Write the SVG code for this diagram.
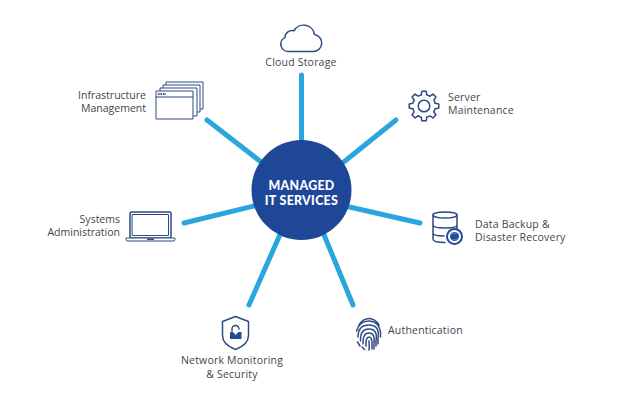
<svg xmlns="http://www.w3.org/2000/svg" width="622" height="401" viewBox="0 0 622 401">
<style>
.label{font-family:"Open Sans","Noto Sans",sans-serif;font-size:10.5px;letter-spacing:.2px;fill:#42454c}
.end{text-anchor:end;letter-spacing:0}
.mid{text-anchor:middle}
.hub{font-family:Lato,"Open Sans",sans-serif;font-size:12.400px;font-weight:900;letter-spacing:.3px;fill:#fff;text-anchor:middle}
.spoke{stroke:#2aa6df;stroke-width:5;stroke-linecap:round;fill:none}
.ico{fill:none;stroke:#2f4a83;stroke-width:1.500;stroke-linejoin:round;stroke-linecap:round}
.thin{stroke-width:1}
.icof{fill:#fff;stroke:#2f4a83;stroke-width:1;stroke-linejoin:round}
.solid{fill:#234a94}
</style>
<defs>
<!-- one gear tooth with the run of root up to the next tooth -->
<path id="tooth" class="ico" d="M-2.800-11.200L-2.100-14.800H2.100L2.800-11.200L5.900-9.900"/>
</defs>
<rect width="622" height="401" fill="#fff"/>
<g id="connectors">
<line class="spoke" x1="301.500" y1="75" x2="301.500" y2="145"/>
<line class="spoke" x1="396" y1="120" x2="340" y2="165"/>
<line class="spoke" x1="420" y1="223" x2="345" y2="206"/>
<line class="spoke" x1="353" y1="305" x2="322" y2="230"/>
<line class="spoke" x1="249" y1="305" x2="282" y2="230"/>
<line class="spoke" x1="184" y1="223" x2="258" y2="205"/>
<line class="spoke" x1="207" y1="120" x2="265" y2="165"/>
</g>
<g id="hub">
<circle cx="301.500" cy="190" r="50" fill="#1f4798"/>
<text class="hub" x="301.500" y="189.500">MANAGED</text>
<text class="hub" x="301.500" y="204.500">IT SERVICES</text>
</g>
<g id="cloud-storage">
<path class="ico" d="M289 51.500h24a8.500 8.500 0 0 0 1.500-16.900a11 11 0 0 0-20.500-3.800a7 7 0 0 0-9 6.500a7.500 7.500 0 0 0 4 14.200z"/>
<text class="label mid" x="301" y="66">Cloud Storage</text>
</g>
<g id="infrastructure-management">
<rect class="icof" x="166" y="82" width="37" height="27"/>
<rect class="icof" x="163" y="85" width="37" height="27"/>
<rect class="icof" x="160" y="88" width="37" height="28"/>
<rect class="icof" x="156" y="91" width="37" height="28"/>
<path class="ico thin" d="M156 97h37"/>
<path d="M158 94h8" stroke="#2f4a83" stroke-width="2" stroke-dasharray="1.500 1"/>
<text class="label end" x="146" y="99">Infrastructure</text>
<text class="label end" x="146" y="112">Management</text>
</g>
<g id="server-maintenance">
<use href="#tooth" transform="translate(424 106)"/>
<use href="#tooth" transform="translate(424 106) rotate(45)"/>
<use href="#tooth" transform="translate(424 106) rotate(90)"/>
<use href="#tooth" transform="translate(424 106) rotate(135)"/>
<use href="#tooth" transform="translate(424 106) rotate(180)"/>
<use href="#tooth" transform="translate(424 106) rotate(225)"/>
<use href="#tooth" transform="translate(424 106) rotate(270)"/>
<use href="#tooth" transform="translate(424 106) rotate(315)"/>
<circle class="ico" cx="424" cy="106" r="5.800"/>
<text class="label" x="448" y="101">Server</text>
<text class="label" x="448" y="114">Maintenance</text>
</g>
<g id="data-backup">
<ellipse class="ico" cx="445" cy="215" rx="12" ry="3"/>
<path class="ico" d="M433 215v24q0 3.500 12 3.500M457 215v14M433 225q0 3 12 3t12-3M433 233q0 3 11 3"/>
<circle cx="454.500" cy="236.500" r="7.500" fill="#fff" stroke="#234a94" stroke-width="2"/>
<circle class="solid" cx="454.500" cy="236.500" r="4.500"/>
<path d="M451.500 235a3 3 0 0 1 5-1M457.500 238a3 3 0 0 1-5 1" fill="none" stroke="#8ea3cc" stroke-width=".8"/>
<text class="label" x="475" y="228">Data Backup &amp;</text>
<text class="label" x="475" y="241">Disaster Recovery</text>
</g>
<g id="authentication">
<path class="ico" d="M359 325q4-6.500 10-6.500t10 6.500M356.500 331q3-10 12.500-10t11.500 11v5M358 337q0-12 11-12t9 13v6M360.500 341q-.5-12 8.500-12t7 12v5M363 344q-.5-11 6-11t5 11v5M366 346q-.5-9 3-9t3 9v3M369 341q.5 5 0 9M357.500 342l2.500 4M362 347l2.500 2.500"/>
<text class="label" x="388" y="334">Authentication</text>
</g>
<g id="network-security">
<path class="ico" d="M235.500 316.500l13 5v14q0 9-13 14q-13-5-13-14v-14z"/>
<path class="ico" d="M232 331v-2a3.500 3.500 0 0 1 7 0"/>
<path class="solid" d="M230 332h3l2.500 3 3-3h3v7h-11.500z"/>
<text class="label mid" x="232" y="364">Network Monitoring</text>
<text class="label mid" x="232" y="378">&amp; Security</text>
</g>
<g id="systems-administration">
<rect class="ico" x="130" y="212" width="41" height="26" rx="1.500"/>
<rect class="ico thin" x="132.500" y="214.500" width="36" height="21"/>
<path class="icof" d="M126 238h49v1.500q0 1.500-2 1.500h-45q-2 0-2-1.500z"/>
<rect x="147" y="238.500" width="7" height="1.500" fill="#2f4a83"/>
<text class="label end" x="120" y="223">Systems</text>
<text class="label end" x="120" y="236">Administration</text>
</g>
</svg>
